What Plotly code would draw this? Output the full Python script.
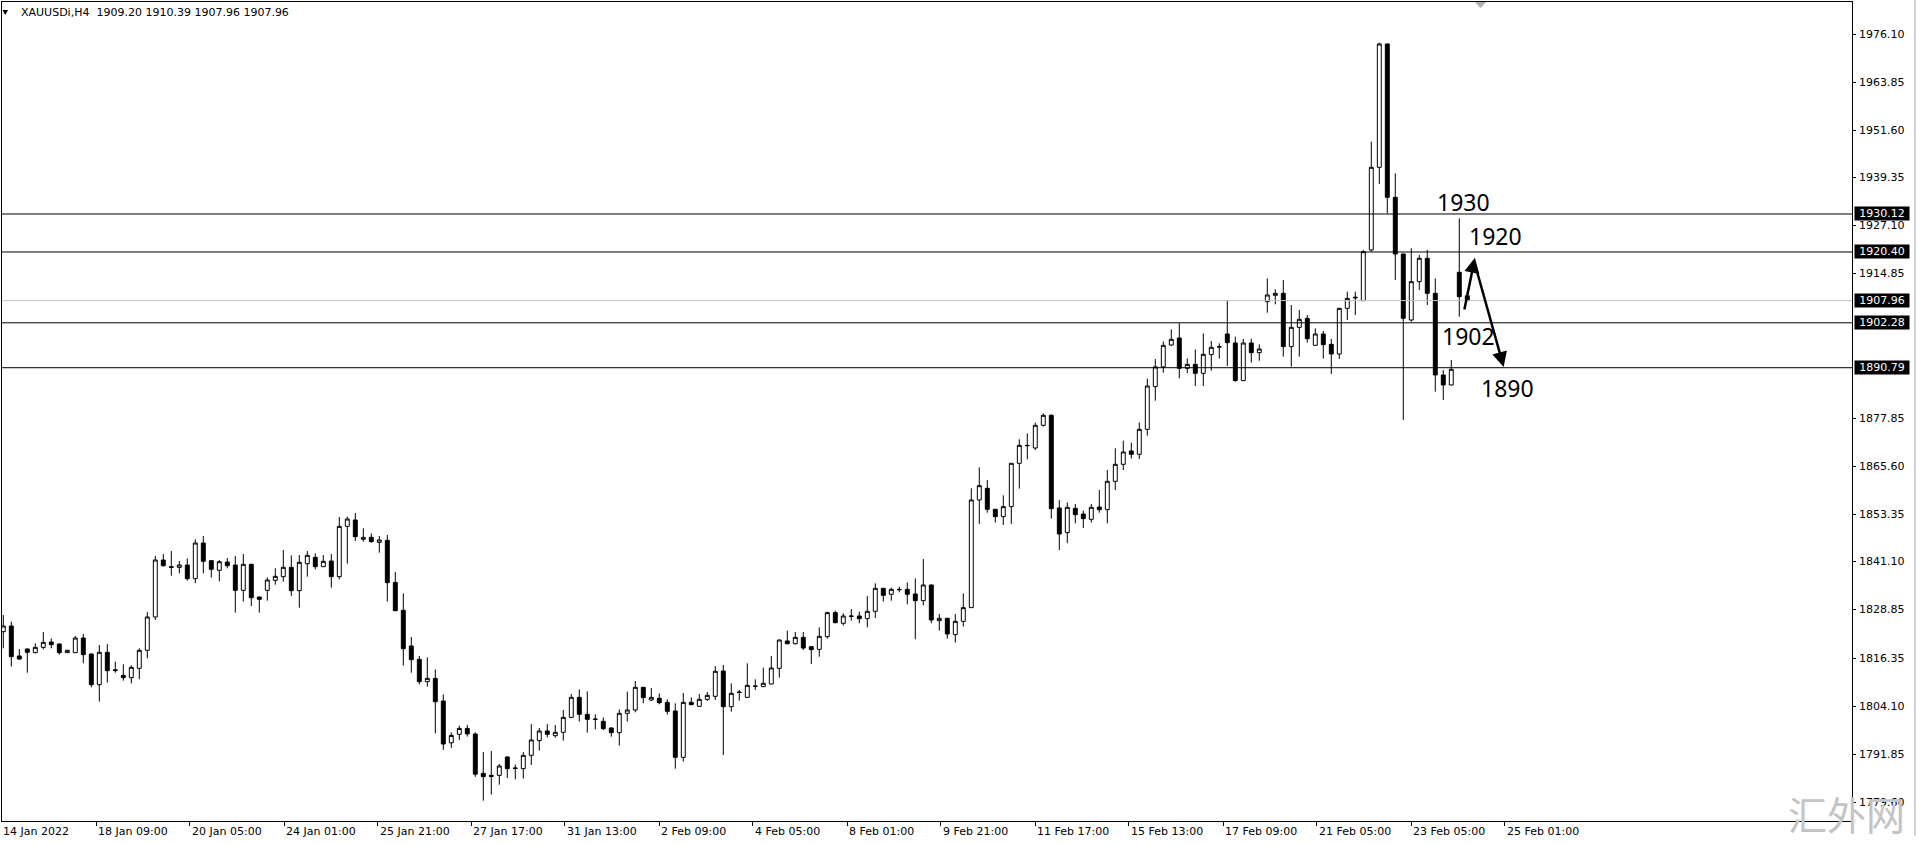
import plotly.graph_objects as go

# XAUUSDi H4 bars (oldest first)
OPEN = [
    1823.25, 1824.70, 1817.03, 1818.82, 1817.88, 1819.24, 1820.61, 1820.10, 1817.88, 1817.88,
    1821.63, 1817.54, 1809.69, 1817.97, 1813.50, 1812.08, 1811.48, 1813.87, 1818.48, 1827.01,
    1841.59, 1839.88, 1839.71, 1840.31, 1836.81, 1845.94, 1841.42, 1838.95, 1841.08, 1840.31,
    1833.83, 1840.48, 1832.12, 1833.83, 1836.39, 1837.33, 1839.71, 1833.74, 1840.65, 1842.27,
    1839.88, 1841.33, 1837.33, 1850.20, 1851.83, 1846.88, 1847.39, 1846.11, 1846.62, 1835.88,
    1828.71, 1819.59, 1816.17, 1810.46, 1811.31, 1805.51, 1794.80, 1797.00, 1798.50, 1797.07,
    1787.01, 1786.49, 1786.49, 1791.18, 1788.37, 1788.20, 1791.61, 1795.37, 1797.84, 1796.64,
    1797.50, 1801.33, 1806.45, 1802.10, 1800.91, 1800.31, 1798.61, 1797.41, 1802.36, 1803.21,
    1809.01, 1805.77, 1806.20, 1805.17, 1802.96, 1791.10, 1805.17, 1804.15, 1805.94, 1806.71,
    1813.19, 1804.06, 1807.82, 1806.44, 1809.35, 1809.18, 1809.86, 1813.87, 1820.87, 1820.18,
    1821.80, 1819.42, 1818.73, 1821.98, 1828.12, 1825.39, 1827.26, 1827.26, 1826.58, 1828.46,
    1834.34, 1832.81, 1834.08, 1834.08, 1832.89, 1831.18, 1835.20, 1826.07, 1826.67, 1822.49,
    1825.90, 1829.40, 1856.95, 1859.93, 1854.56, 1852.68, 1855.24, 1866.33, 1870.93, 1870.25,
    1876.05, 1878.61, 1854.90, 1848.59, 1854.81, 1853.36, 1852.00, 1855.15, 1854.47, 1861.72,
    1866.07, 1869.48, 1868.63, 1875.03, 1885.94, 1891.00, 1896.60, 1898.39, 1890.63, 1891.65,
    1889.35, 1894.13, 1896.18, 1899.42, 1897.11, 1887.48, 1897.11, 1894.64, 1907.69, 1909.31,
    1909.82, 1896.18, 1901.12, 1903.42, 1896.52, 1899.42, 1896.77, 1894.30, 1905.98, 1908.63,
    1907.95, 1920.91, 1942.06, 1973.62, 1934.39, 1919.89, 1903.00, 1912.81, 1918.78, 1909.82,
    1888.93, 1886.37, 1915.20, 1909.20,
]
HIGH = [
    1827.52, 1825.81, 1818.82, 1818.99, 1820.27, 1823.17, 1821.55, 1820.20, 1818.60, 1822.14,
    1822.66, 1817.71, 1819.84, 1820.10, 1815.58, 1814.89, 1814.64, 1818.99, 1828.28, 1842.61,
    1843.13, 1843.89, 1841.33, 1842.02, 1846.88, 1847.73, 1841.59, 1841.59, 1842.10, 1842.61,
    1843.13, 1840.60, 1832.21, 1837.16, 1839.46, 1844.15, 1842.79, 1842.87, 1843.89, 1843.30,
    1842.87, 1843.13, 1852.59, 1852.68, 1853.62, 1849.69, 1848.41, 1847.73, 1847.99, 1838.52,
    1833.06, 1821.89, 1817.03, 1816.69, 1813.61, 1807.22, 1797.50, 1799.20, 1799.40, 1797.50,
    1792.46, 1792.72, 1789.40, 1791.44, 1789.22, 1792.46, 1799.63, 1798.61, 1799.63, 1799.37,
    1803.21, 1807.31, 1808.50, 1807.99, 1802.10, 1801.33, 1798.78, 1803.38, 1807.90, 1810.63,
    1809.10, 1808.84, 1807.48, 1805.94, 1804.92, 1807.56, 1806.45, 1807.31, 1807.82, 1814.47,
    1814.73, 1810.04, 1808.33, 1815.15, 1811.06, 1814.04, 1817.03, 1821.20, 1823.51, 1823.17,
    1823.17, 1819.50, 1824.36, 1828.37, 1828.63, 1827.95, 1829.05, 1828.37, 1832.38, 1835.62,
    1834.40, 1834.51, 1834.77, 1835.88, 1836.90, 1841.85, 1835.30, 1827.78, 1826.80, 1827.78,
    1833.06, 1859.93, 1865.30, 1862.06, 1854.60, 1858.14, 1866.40, 1872.47, 1874.00, 1876.73,
    1879.12, 1878.87, 1856.95, 1856.35, 1855.92, 1854.22, 1855.92, 1859.50, 1864.62, 1870.17,
    1872.13, 1871.62, 1876.82, 1888.00, 1893.00, 1897.50, 1900.61, 1902.15, 1893.19, 1895.49,
    1899.59, 1897.62, 1897.03, 1908.12, 1898.73, 1898.14, 1898.22, 1896.77, 1913.66, 1910.84,
    1913.23, 1906.84, 1905.56, 1904.28, 1900.87, 1900.18, 1898.14, 1906.10, 1910.25, 1910.25,
    1920.91, 1948.63, 1973.96, 1973.70, 1940.53, 1920.00, 1921.34, 1919.63, 1920.91, 1913.66,
    1890.21, 1892.76, 1929.01, 1910.39,
]
LOW = [
    1818.99, 1814.30, 1816.00, 1812.76, 1817.71, 1818.73, 1818.99, 1817.37, 1817.80, 1817.80,
    1815.15, 1809.01, 1805.34, 1810.20, 1812.76, 1810.72, 1810.03, 1811.06, 1816.43, 1826.24,
    1839.88, 1837.58, 1838.18, 1836.30, 1835.62, 1838.18, 1837.07, 1836.13, 1839.46, 1828.11,
    1830.93, 1829.82, 1828.11, 1831.19, 1835.28, 1836.05, 1832.38, 1829.39, 1837.33, 1839.20,
    1839.80, 1834.51, 1836.64, 1840.65, 1846.45, 1846.28, 1846.02, 1843.47, 1830.93, 1828.50,
    1814.55, 1812.76, 1809.78, 1809.18, 1797.24, 1793.00, 1793.50, 1795.50, 1796.40, 1786.10,
    1780.01, 1781.55, 1784.11, 1785.81, 1785.47, 1785.64, 1789.14, 1792.81, 1796.22, 1796.13,
    1795.37, 1801.20, 1800.23, 1797.41, 1798.27, 1798.09, 1796.39, 1794.08, 1800.23, 1802.61,
    1804.92, 1805.51, 1804.66, 1802.02, 1788.20, 1789.99, 1804.41, 1804.10, 1805.51, 1805.77,
    1791.70, 1802.79, 1805.60, 1806.30, 1808.33, 1809.10, 1809.80, 1811.49, 1820.01, 1820.01,
    1818.56, 1814.98, 1816.86, 1821.46, 1825.39, 1824.79, 1826.07, 1825.39, 1824.36, 1826.75,
    1830.93, 1831.18, 1833.32, 1830.25, 1821.29, 1829.99, 1825.39, 1823.51, 1821.46, 1820.44,
    1824.54, 1829.30, 1850.81, 1853.70, 1851.15, 1850.55, 1850.81, 1859.85, 1867.35, 1869.74,
    1875.71, 1852.17, 1844.15, 1845.86, 1850.98, 1849.78, 1851.15, 1853.70, 1850.98, 1859.50,
    1864.62, 1867.52, 1867.44, 1873.41, 1882.36, 1889.50, 1896.35, 1888.07, 1889.35, 1886.11,
    1886.11, 1890.03, 1893.10, 1891.23, 1887.22, 1887.40, 1892.08, 1892.59, 1904.87, 1907.01,
    1893.62, 1891.06, 1893.62, 1897.20, 1896.40, 1893.10, 1889.18, 1893.02, 1903.00, 1904.28,
    1907.90, 1920.48, 1937.80, 1930.29, 1913.23, 1877.41, 1902.57, 1910.67, 1906.84, 1884.66,
    1882.53, 1886.30, 1903.85, 1907.96,
]
CLOSE = [
    1824.70, 1816.86, 1816.26, 1817.97, 1819.24, 1820.52, 1819.93, 1817.88, 1818.48, 1821.63,
    1817.37, 1809.69, 1817.97, 1813.27, 1813.30, 1811.48, 1814.13, 1818.48, 1827.01, 1841.59,
    1840.14, 1839.71, 1840.31, 1836.81, 1845.94, 1841.25, 1839.20, 1841.16, 1840.14, 1833.83,
    1840.48, 1831.95, 1831.53, 1836.47, 1837.41, 1839.71, 1833.74, 1840.99, 1842.79, 1839.88,
    1841.25, 1837.33, 1850.20, 1852.08, 1847.56, 1847.39, 1846.28, 1846.71, 1835.79, 1828.63,
    1818.90, 1816.09, 1810.46, 1811.31, 1805.34, 1794.50, 1796.70, 1798.50, 1797.10, 1786.80,
    1786.15, 1786.24, 1788.88, 1788.20, 1788.29, 1791.61, 1795.54, 1797.84, 1796.99, 1797.50,
    1801.33, 1806.45, 1802.10, 1800.82, 1800.82, 1798.44, 1797.41, 1802.36, 1803.21, 1809.01,
    1806.37, 1806.45, 1805.09, 1802.87, 1791.10, 1805.17, 1804.58, 1805.94, 1806.96, 1813.11,
    1804.06, 1807.48, 1807.70, 1809.52, 1809.27, 1810.04, 1813.96, 1821.12, 1820.18, 1821.80,
    1819.07, 1818.65, 1822.06, 1828.12, 1825.56, 1827.26, 1827.20, 1826.58, 1828.46, 1834.34,
    1832.55, 1834.08, 1834.00, 1832.81, 1831.18, 1835.20, 1826.24, 1826.67, 1822.66, 1825.90,
    1829.40, 1856.95, 1860.61, 1854.56, 1852.68, 1855.24, 1866.33, 1870.93, 1870.85, 1876.05,
    1878.61, 1854.73, 1848.25, 1855.07, 1853.19, 1852.17, 1855.07, 1854.47, 1861.72, 1866.07,
    1869.23, 1868.63, 1875.03, 1886.11, 1891.00, 1896.50, 1898.05, 1890.63, 1891.65, 1889.35,
    1894.21, 1896.00, 1896.10, 1897.20, 1887.48, 1897.11, 1894.64, 1895.58, 1909.40, 1909.82,
    1896.18, 1901.12, 1903.17, 1898.22, 1899.42, 1896.69, 1894.30, 1905.98, 1908.54, 1908.80,
    1920.48, 1942.06, 1973.62, 1934.39, 1919.89, 1903.43, 1912.81, 1918.78, 1909.82, 1888.93,
    1886.37, 1890.38, 1908.97, 1907.96,
]
BARS = list(range(len(OPEN)))

# price scale labels shown on the right
PRICE_LABELS = [
    "1976.10", "1963.85", "1951.60", "1939.35", "1927.10", "1914.85",
    "1877.85", "1865.60", "1853.35", "1841.10", "1828.85", "1816.35",
    "1804.10", "1791.85", "1779.60",
]

# time scale labels (position given in bars)
TIME_LABELS = [
    "18 Jan 09:00", "20 Jan 05:00", "24 Jan 01:00", "25 Jan 21:00", "27 Jan 17:00",
    "31 Jan 13:00", "2 Feb 09:00", "4 Feb 05:00", "8 Feb 01:00", "9 Feb 21:00",
    "11 Feb 17:00", "15 Feb 13:00", "17 Feb 09:00", "21 Feb 05:00", "23 Feb 05:00",
    "25 Feb 01:00",
]
TIME_POS = [11.6, 23.3, 35.1, 46.8, 58.5, 70.2, 82.0, 93.7, 105.5, 117.2,
            129.0, 140.7, 152.5, 164.2, 176.0, 187.7]

LEVELS = [1930.12, 1920.40, 1902.28, 1890.79]
BID = 1907.96

# hand drawn notes
NOTE_TEXT = ["1930", "1920", "1902", "1890"]
NOTE_X = [178.96, 182.96, 179.6, 184.47]
NOTE_Y = [1933.1, 1924.6, 1898.9, 1885.7]
ARROW_FROM = [(182.6, 1905.3), (183.85, 1918.1)]
ARROW_TO = [(183.95, 1918.9), (187.55, 1891.0)]

W, H = 1918, 844
PLOT_L, PLOT_R, PLOT_T, PLOT_B = 2, 1852, 2, 821
LABEL_FONT = dict(family="DejaVu Sans", size=11, color="black")


def px(x, y):
    """pixel position -> paper coordinates (for chrome decorations)"""
    return ((x - PLOT_L) / (PLOT_R - PLOT_L), (PLOT_B - y) / (PLOT_B - PLOT_T))


fig = go.Figure(
    go.Candlestick(
        x=BARS, open=OPEN, high=HIGH, low=LOW, close=CLOSE,
        increasing=dict(line=dict(color="black", width=1), fillcolor="white"),
        decreasing=dict(line=dict(color="black", width=1), fillcolor="black"),
        whiskerwidth=0,
        hoverinfo="skip",
        showlegend=False,
    )
)

shapes = []
for lvl in LEVELS:
    shapes.append(dict(type="line", xref="paper", yref="y", x0=0, x1=1, y0=lvl, y1=lvl,
                       line=dict(color="black", width=1)))
shapes.append(dict(type="line", xref="paper", yref="y", x0=0, x1=1, y0=BID, y1=BID,
                   line=dict(color="#c0c0c0", width=1)))

# little triangles of the terminal window
(a, b), (c, d), (e, f) = px(2.5, 10), px(8, 10), px(5.2, 15)
shapes.append(dict(type="path", xref="paper", yref="paper",
                   path=f"M {a},{b} L {c},{d} L {e},{f} Z",
                   fillcolor="black", line=dict(width=0)))
(a, b), (c, d), (e, f) = px(1475, 2), px(1486, 2), px(1480.5, 8)
shapes.append(dict(type="path", xref="paper", yref="paper",
                   path=f"M {a},{b} L {c},{d} L {e},{f} Z",
                   fillcolor="#b0b0b0", line=dict(width=0)))
(a, b), (c, d) = px(1915, 0), px(1915, 836)
shapes.append(dict(type="line", xref="paper", yref="paper", x0=a, x1=c, y0=b, y1=d,
                   line=dict(color="#a8a8a8", width=1)))

annotations = []
tx, ty = px(19, 13)
annotations.append(dict(xref="paper", yref="paper", x=tx, y=ty, xanchor="left", yanchor="middle",
                        text="XAUUSDi,H4  1909.20 1910.39 1907.96 1907.96",
                        showarrow=False, font=LABEL_FONT))

# time scale
fx, _ = px(1, 0)
annotations.append(dict(xref="paper", yref="paper", x=fx, y=0, xanchor="left", yanchor="top",
                        yshift=-2, text="14 Jan 2022", showarrow=False, font=LABEL_FONT))
for pos, lab in zip(TIME_POS, TIME_LABELS):
    annotations.append(dict(xref="x", yref="paper", x=pos, y=0, xanchor="left", yanchor="top",
                            yshift=-2, text=lab, showarrow=False, font=LABEL_FONT))

# price scale
for lab in PRICE_LABELS:
    annotations.append(dict(xref="paper", yref="y", x=1, y=float(lab), xanchor="left",
                            yanchor="middle", xshift=5, text=lab, showarrow=False,
                            font=LABEL_FONT))

# level tags drawn over the scale
for lvl in LEVELS + [BID]:
    annotations.append(dict(xref="paper", yref="y", x=1, y=lvl, xanchor="left", yanchor="middle",
                            xshift=2, text=f"{lvl:.2f}", showarrow=False, width=54, borderpad=0,
                            bgcolor="black", font=dict(family="DejaVu Sans", size=11, color="white")))

for t, x, y in zip(NOTE_TEXT, NOTE_X, NOTE_Y):
    annotations.append(dict(xref="x", yref="y", x=x, y=y, xanchor="left", yanchor="middle",
                            text=t, showarrow=False,
                            font=dict(family="Noto Sans", size=23, color="black")))

for (x0, y0), (x1, y1) in zip(ARROW_FROM, ARROW_TO):
    annotations.append(dict(xref="x", yref="y", axref="x", ayref="y", x=x1, y=y1, ax=x0, ay=y0,
                            text="", showarrow=True, arrowhead=2, arrowsize=1.2, arrowwidth=2.5,
                            arrowcolor="black", standoff=0, startstandoff=0))

wx, wy = px(1846, 813)
annotations.append(dict(xref="paper", yref="paper", x=wx, y=wy, xanchor="center", yanchor="middle",
                        text="汇外网", showarrow=False,
                        font=dict(family="Noto Sans CJK SC", size=39, color="#c4c4c4")))

fig.update_layout(
    width=W, height=H,
    margin=dict(l=PLOT_L, r=W - PLOT_R, t=PLOT_T, b=H - PLOT_B, pad=0),
    paper_bgcolor="white",
    plot_bgcolor="white",
    shapes=shapes,
    annotations=annotations,
    showlegend=False,
)
fig.update_xaxes(
    range=[-0.1625, 231.09],
    rangeslider_visible=False,
    showgrid=False, zeroline=False,
    showline=True, mirror=True, linecolor="black", linewidth=1,
    tickvals=TIME_POS, ticks="outside", ticklen=4, tickcolor="black",
    showticklabels=False,
)
fig.update_yaxes(
    range=[1774.81, 1984.36],
    side="right",
    showgrid=False, zeroline=False,
    showline=True, mirror=True, linecolor="black", linewidth=1,
    tickvals=[float(v) for v in PRICE_LABELS],
    ticks="outside", ticklen=3, tickcolor="black",
    showticklabels=False,
)

# page body has a default 8px margin; drop it so the chart sits at the window corner
fig.write_html("out.html", config={"displayModeBar": False},
               post_script="document.body.style.margin='0';document.body.style.overflow='hidden';")
